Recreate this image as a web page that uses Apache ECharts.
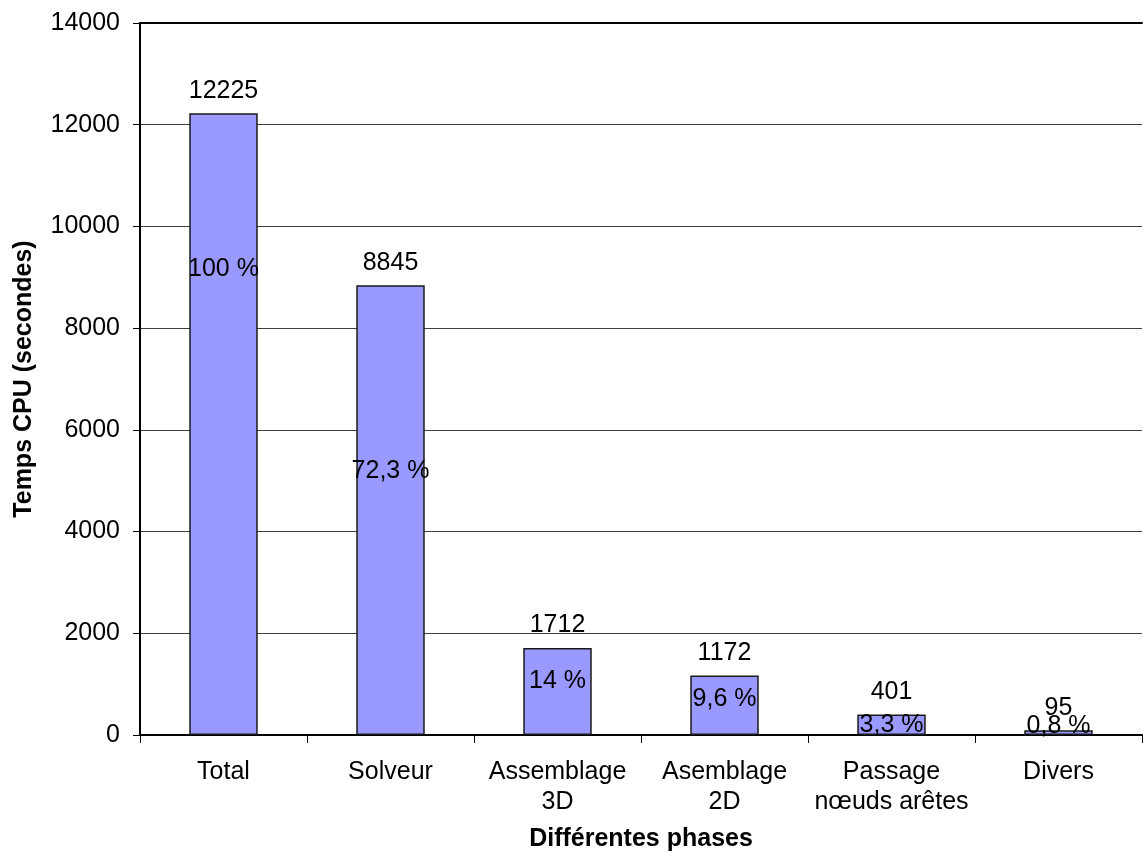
<!DOCTYPE html>
<html>
<head>
<meta charset="utf-8">
<script src="https://cdn.jsdelivr.net/npm/echarts@6/dist/echarts.min.js"></script>
<style>
html,body{margin:0;padding:0;background:#fff;}
#chart{width:1146px;height:857px;}
</style>
</head>
<body>
<div id="chart"></div>
<script>
// ---- data ----
var categories = ['Total', 'Solveur', 'Assemblage\n3D', 'Asemblage\n2D', 'Passage\nnœuds arêtes', 'Divers'];
var cpuSeconds = [12225, 8845, 1712, 1172, 401, 95];
var percentShares = [100, 72.3, 14, 9.6, 3.3, 0.8];
var yTicks = { min: 0, max: 14000, interval: 2000 };

// ---- style (label nudges for the percentage labels, px) ----
var pctLabelNudge = [-155, -39, -10, -6, 0, -6];

var FONT = 'Liberation Sans, Arial, sans-serif';
var FS = 25;

var pctData = cpuSeconds.map(function (v, i) {
  return {
    value: v,
    label: { offset: [0, pctLabelNudge[i]] }
  };
});

var chart = echarts.init(document.getElementById('chart'), null, { renderer: 'canvas' });
chart.setOption({
  backgroundColor: '#ffffff',
  animation: false,
  grid: { left: 140, right: 4, top: 23, bottom: 122, containLabel: false, outerBoundsMode: 'none' },
  xAxis: [{
    type: 'category',
    data: categories,
    position: 'bottom',
    name: 'Différentes phases',
    nameLocation: 'middle',
    nameGap: 92,
    nameTextStyle: { fontFamily: FONT, fontSize: FS, fontWeight: 'bold', color: '#000' },
    axisLine: { show: true, lineStyle: { color: '#000', width: 2 } },
    axisTick: { show: true, length: 8, lineStyle: { color: '#000', width: 1 } },
    axisLabel: { fontFamily: FONT, fontSize: FS, color: '#000', margin: 22, lineHeight: 30, interval: 0 },
    splitLine: { show: false }
  }, {
    type: 'category',
    data: categories,
    position: 'top',
    axisLine: { show: true, lineStyle: { color: '#000', width: 2 } },
    axisTick: { show: false },
    axisLabel: { show: false },
    splitLine: { show: false }
  }],
  yAxis: {
    type: 'value',
    min: yTicks.min,
    max: yTicks.max,
    interval: yTicks.interval,
    name: 'Temps CPU (secondes)',
    nameLocation: 'middle',
    nameGap: 103,
    nameTextStyle: { fontFamily: FONT, fontSize: FS, fontWeight: 'bold', color: '#000' },
    axisLine: { show: true, lineStyle: { color: '#000', width: 2 } },
    axisTick: { show: true, length: 7, lineStyle: { color: '#000', width: 1 } },
    axisLabel: {
      fontFamily: FONT, fontSize: FS, color: '#000', margin: 20,
      formatter: function (v) { return String(v); }
    },
    splitLine: { show: true, lineStyle: { color: '#404040', width: 1 } }
  },
  series: [{
    type: 'bar',
    data: cpuSeconds,
    barWidth: '41%',
    itemStyle: { color: '#9999FF', borderColor: '#1a1a1a', borderWidth: 1.5 },
    label: {
      show: true,
      position: 'top',
      distance: 10,
      fontFamily: FONT,
      fontSize: FS,
      color: '#000'
    },
    z: 2
  }, {
    type: 'bar',
    data: pctData,
    barWidth: '41%',
    barGap: '-100%',
    silent: true,
    itemStyle: { color: 'rgba(0,0,0,0)', borderWidth: 0 },
    label: {
      show: true,
      position: 'inside',
      fontFamily: FONT,
      fontSize: FS,
      color: '#000',
      formatter: function (p) {
        return String(percentShares[p.dataIndex]).replace('.', ',') + ' %';
      }
    },
    z: 3
  }]
});
</script>
</body>
</html>
